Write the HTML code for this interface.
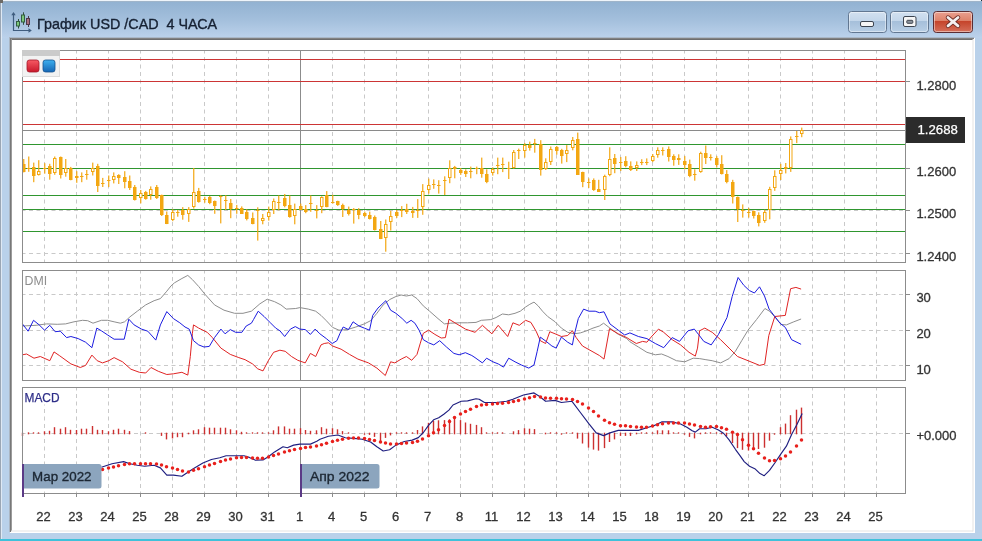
<!DOCTYPE html>
<html><head><meta charset="utf-8"><title>График USD /CAD 4 ЧАСА</title>
<style>html,body{margin:0;padding:0;background:#b9d1ea;overflow:hidden;width:982px;height:541px}svg{display:block}</style>
</head><body><svg width="982" height="541" viewBox="0 0 982 541" shape-rendering="auto"><rect x="0" y="0" width="982" height="541" fill="#b9d1ea"/><defs><linearGradient id="tg" x1="0" y1="0" x2="0" y2="1"><stop offset="0" stop-color="#91b1d1"/><stop offset="0.5" stop-color="#a3bfdc"/><stop offset="1" stop-color="#bcd2eb"/></linearGradient><linearGradient id="bmin" x1="0" y1="0" x2="0" y2="1"><stop offset="0" stop-color="#d3e1f0"/><stop offset="0.45" stop-color="#c3d6ea"/><stop offset="0.46" stop-color="#a5bfda"/><stop offset="1" stop-color="#b9cfe6"/></linearGradient><linearGradient id="bcls" x1="0" y1="0" x2="0" y2="1"><stop offset="0" stop-color="#eaa191"/><stop offset="0.45" stop-color="#dd8169"/><stop offset="0.46" stop-color="#c5432a"/><stop offset="1" stop-color="#d5715c"/></linearGradient><linearGradient id="sqr" x1="0" y1="0" x2="0" y2="1"><stop offset="0" stop-color="#f75a64"/><stop offset="1" stop-color="#c9182b"/></linearGradient><linearGradient id="sqb" x1="0" y1="0" x2="0" y2="1"><stop offset="0" stop-color="#3db0ef"/><stop offset="1" stop-color="#1566b5"/></linearGradient></defs><rect x="2" y="1" width="980" height="37" fill="url(#tg)"/><rect x="3" y="0" width="978" height="1" fill="#eef4fa"/><rect x="2" y="1" width="979" height="1" fill="#9fb4c9"/><rect x="0" y="3" width="1" height="538" fill="#9aa6b4"/><rect x="1" y="2" width="1" height="539" fill="#dfe9f4"/><rect x="0" y="0" width="3" height="3" fill="#6d6a66"/><rect x="981" y="0" width="1" height="1" fill="#1a2a30"/><rect x="0" y="539" width="982" height="2" fill="#3fc1da"/><rect x="10" y="38" width="965" height="495" fill="#ffffff"/><rect x="9" y="37" width="965" height="1" fill="#aab8c8"/><rect x="9" y="37" width="1" height="495" fill="#aab6c3"/><rect x="10" y="38" width="964" height="1" fill="#828282"/><rect x="10" y="38" width="1" height="494" fill="#787878"/><rect x="11" y="39" width="962" height="1" fill="#6e6e6e"/><rect x="11" y="39" width="1" height="492" fill="#9c9c9c"/><rect x="11" y="530.5" width="962" height="1" fill="#e3e3e3"/><rect x="972.5" y="39" width="1" height="492.5" fill="#e3e3e3"/><g fill="none" stroke-linecap="butt"><path d="M13.5 13.5 V30.5 H30" stroke="#3f5c7e" stroke-width="1.2"/><path d="M11.3 15.2 L13.5 12 L15.7 15.2 Z" fill="#3f5c7e" stroke="none"/><path d="M28.5 28.2 L31.8 30.5 L28.5 32.8 Z" fill="#3f5c7e" stroke="none"/><path d="M18.5 19 V28.5" stroke="#2f4f3c"/><rect x="16.5" y="21.5" width="3" height="4.5" fill="#7cc87c" stroke="#335d40" stroke-width="1"/><path d="M23.5 12.3 V24.8" stroke="#2f4f3c"/><rect x="21.5" y="15" width="3" height="7" fill="#7cc87c" stroke="#335d40" stroke-width="1"/><path d="M28.5 16 V27" stroke="#4a3a48"/><rect x="26.5" y="18.5" width="3" height="6" fill="#a8707e" stroke="#4f3a4c" stroke-width="1"/></g><text x="37" y="28.7" xml:space="preserve" font-family="Liberation Sans, Noto Sans CJK SC, sans-serif" font-size="14.3" fill="#162133" stroke="#162133" stroke-width="0.35" textLength="180" lengthAdjust="spacingAndGlyphs">График USD /CAD  4 ЧАСА</text><rect x="848.5" y="11.5" width="38" height="21" rx="3" fill="url(#bmin)" stroke="#627791"/><rect x="849.5" y="12.5" width="36" height="19" rx="2" fill="none" stroke="#ffffff" stroke-opacity="0.45"/><rect x="890.5" y="11.5" width="38" height="21" rx="3" fill="url(#bmin)" stroke="#627791"/><rect x="891.5" y="12.5" width="36" height="19" rx="2" fill="none" stroke="#ffffff" stroke-opacity="0.45"/><rect x="933.5" y="11.5" width="39" height="21" rx="3" fill="url(#bcls)" stroke="#5a2d33"/><rect x="934.5" y="12.5" width="37" height="19" rx="2" fill="none" stroke="#ffffff" stroke-opacity="0.45"/><rect x="860.5" y="21.5" width="13" height="5" rx="1.5" fill="#f6f6f6" stroke="#3c4450"/><rect x="903.5" y="16.5" width="12.5" height="10" rx="1.5" fill="#f6f6f6" stroke="#3c4450"/><rect x="906.8" y="20.3" width="6" height="3" rx="0.8" fill="#8a929c" stroke="#40464f" stroke-width="1"/><path d="M948 17.5 L958 25.8 M958 17.5 L948 25.8" stroke="#6a2a24" stroke-width="4.4" stroke-linecap="round"/><path d="M948 17.5 L958 25.8 M958 17.5 L948 25.8" stroke="#f4f0f0" stroke-width="2.8" stroke-linecap="round"/><line x1="44.5" y1="51" x2="44.5" y2="262" stroke="#c9c9c9" stroke-dasharray="4 3.5" stroke-dashoffset="1.5"/><line x1="76.5" y1="51" x2="76.5" y2="262" stroke="#c9c9c9" stroke-dasharray="4 3.5" stroke-dashoffset="1.5"/><line x1="108.5" y1="51" x2="108.5" y2="262" stroke="#c9c9c9" stroke-dasharray="4 3.5" stroke-dashoffset="1.5"/><line x1="140.5" y1="51" x2="140.5" y2="262" stroke="#c9c9c9" stroke-dasharray="4 3.5" stroke-dashoffset="1.5"/><line x1="172.5" y1="51" x2="172.5" y2="262" stroke="#c9c9c9" stroke-dasharray="4 3.5" stroke-dashoffset="1.5"/><line x1="204.5" y1="51" x2="204.5" y2="262" stroke="#c9c9c9" stroke-dasharray="4 3.5" stroke-dashoffset="1.5"/><line x1="236.5" y1="51" x2="236.5" y2="262" stroke="#c9c9c9" stroke-dasharray="4 3.5" stroke-dashoffset="1.5"/><line x1="268.5" y1="51" x2="268.5" y2="262" stroke="#c9c9c9" stroke-dasharray="4 3.5" stroke-dashoffset="1.5"/><line x1="332.5" y1="51" x2="332.5" y2="262" stroke="#c9c9c9" stroke-dasharray="4 3.5" stroke-dashoffset="1.5"/><line x1="364.5" y1="51" x2="364.5" y2="262" stroke="#c9c9c9" stroke-dasharray="4 3.5" stroke-dashoffset="1.5"/><line x1="396.5" y1="51" x2="396.5" y2="262" stroke="#c9c9c9" stroke-dasharray="4 3.5" stroke-dashoffset="1.5"/><line x1="428.5" y1="51" x2="428.5" y2="262" stroke="#c9c9c9" stroke-dasharray="4 3.5" stroke-dashoffset="1.5"/><line x1="460.5" y1="51" x2="460.5" y2="262" stroke="#c9c9c9" stroke-dasharray="4 3.5" stroke-dashoffset="1.5"/><line x1="492.5" y1="51" x2="492.5" y2="262" stroke="#c9c9c9" stroke-dasharray="4 3.5" stroke-dashoffset="1.5"/><line x1="524.5" y1="51" x2="524.5" y2="262" stroke="#c9c9c9" stroke-dasharray="4 3.5" stroke-dashoffset="1.5"/><line x1="556.5" y1="51" x2="556.5" y2="262" stroke="#c9c9c9" stroke-dasharray="4 3.5" stroke-dashoffset="1.5"/><line x1="588.5" y1="51" x2="588.5" y2="262" stroke="#c9c9c9" stroke-dasharray="4 3.5" stroke-dashoffset="1.5"/><line x1="620.5" y1="51" x2="620.5" y2="262" stroke="#c9c9c9" stroke-dasharray="4 3.5" stroke-dashoffset="1.5"/><line x1="652.5" y1="51" x2="652.5" y2="262" stroke="#c9c9c9" stroke-dasharray="4 3.5" stroke-dashoffset="1.5"/><line x1="684.5" y1="51" x2="684.5" y2="262" stroke="#c9c9c9" stroke-dasharray="4 3.5" stroke-dashoffset="1.5"/><line x1="716.5" y1="51" x2="716.5" y2="262" stroke="#c9c9c9" stroke-dasharray="4 3.5" stroke-dashoffset="1.5"/><line x1="748.5" y1="51" x2="748.5" y2="262" stroke="#c9c9c9" stroke-dasharray="4 3.5" stroke-dashoffset="1.5"/><line x1="780.5" y1="51" x2="780.5" y2="262" stroke="#c9c9c9" stroke-dasharray="4 3.5" stroke-dashoffset="1.5"/><line x1="812.5" y1="51" x2="812.5" y2="262" stroke="#c9c9c9" stroke-dasharray="4 3.5" stroke-dashoffset="1.5"/><line x1="844.5" y1="51" x2="844.5" y2="262" stroke="#c9c9c9" stroke-dasharray="4 3.5" stroke-dashoffset="1.5"/><line x1="876.5" y1="51" x2="876.5" y2="262" stroke="#c9c9c9" stroke-dasharray="4 3.5" stroke-dashoffset="1.5"/><line x1="44.5" y1="271" x2="44.5" y2="380" stroke="#c9c9c9" stroke-dasharray="4 3.5" stroke-dashoffset="1.5"/><line x1="76.5" y1="271" x2="76.5" y2="380" stroke="#c9c9c9" stroke-dasharray="4 3.5" stroke-dashoffset="1.5"/><line x1="108.5" y1="271" x2="108.5" y2="380" stroke="#c9c9c9" stroke-dasharray="4 3.5" stroke-dashoffset="1.5"/><line x1="140.5" y1="271" x2="140.5" y2="380" stroke="#c9c9c9" stroke-dasharray="4 3.5" stroke-dashoffset="1.5"/><line x1="172.5" y1="271" x2="172.5" y2="380" stroke="#c9c9c9" stroke-dasharray="4 3.5" stroke-dashoffset="1.5"/><line x1="204.5" y1="271" x2="204.5" y2="380" stroke="#c9c9c9" stroke-dasharray="4 3.5" stroke-dashoffset="1.5"/><line x1="236.5" y1="271" x2="236.5" y2="380" stroke="#c9c9c9" stroke-dasharray="4 3.5" stroke-dashoffset="1.5"/><line x1="268.5" y1="271" x2="268.5" y2="380" stroke="#c9c9c9" stroke-dasharray="4 3.5" stroke-dashoffset="1.5"/><line x1="332.5" y1="271" x2="332.5" y2="380" stroke="#c9c9c9" stroke-dasharray="4 3.5" stroke-dashoffset="1.5"/><line x1="364.5" y1="271" x2="364.5" y2="380" stroke="#c9c9c9" stroke-dasharray="4 3.5" stroke-dashoffset="1.5"/><line x1="396.5" y1="271" x2="396.5" y2="380" stroke="#c9c9c9" stroke-dasharray="4 3.5" stroke-dashoffset="1.5"/><line x1="428.5" y1="271" x2="428.5" y2="380" stroke="#c9c9c9" stroke-dasharray="4 3.5" stroke-dashoffset="1.5"/><line x1="460.5" y1="271" x2="460.5" y2="380" stroke="#c9c9c9" stroke-dasharray="4 3.5" stroke-dashoffset="1.5"/><line x1="492.5" y1="271" x2="492.5" y2="380" stroke="#c9c9c9" stroke-dasharray="4 3.5" stroke-dashoffset="1.5"/><line x1="524.5" y1="271" x2="524.5" y2="380" stroke="#c9c9c9" stroke-dasharray="4 3.5" stroke-dashoffset="1.5"/><line x1="556.5" y1="271" x2="556.5" y2="380" stroke="#c9c9c9" stroke-dasharray="4 3.5" stroke-dashoffset="1.5"/><line x1="588.5" y1="271" x2="588.5" y2="380" stroke="#c9c9c9" stroke-dasharray="4 3.5" stroke-dashoffset="1.5"/><line x1="620.5" y1="271" x2="620.5" y2="380" stroke="#c9c9c9" stroke-dasharray="4 3.5" stroke-dashoffset="1.5"/><line x1="652.5" y1="271" x2="652.5" y2="380" stroke="#c9c9c9" stroke-dasharray="4 3.5" stroke-dashoffset="1.5"/><line x1="684.5" y1="271" x2="684.5" y2="380" stroke="#c9c9c9" stroke-dasharray="4 3.5" stroke-dashoffset="1.5"/><line x1="716.5" y1="271" x2="716.5" y2="380" stroke="#c9c9c9" stroke-dasharray="4 3.5" stroke-dashoffset="1.5"/><line x1="748.5" y1="271" x2="748.5" y2="380" stroke="#c9c9c9" stroke-dasharray="4 3.5" stroke-dashoffset="1.5"/><line x1="780.5" y1="271" x2="780.5" y2="380" stroke="#c9c9c9" stroke-dasharray="4 3.5" stroke-dashoffset="1.5"/><line x1="812.5" y1="271" x2="812.5" y2="380" stroke="#c9c9c9" stroke-dasharray="4 3.5" stroke-dashoffset="1.5"/><line x1="844.5" y1="271" x2="844.5" y2="380" stroke="#c9c9c9" stroke-dasharray="4 3.5" stroke-dashoffset="1.5"/><line x1="876.5" y1="271" x2="876.5" y2="380" stroke="#c9c9c9" stroke-dasharray="4 3.5" stroke-dashoffset="1.5"/><line x1="44.5" y1="388" x2="44.5" y2="493" stroke="#c9c9c9" stroke-dasharray="4 3.5" stroke-dashoffset="1.5"/><line x1="76.5" y1="388" x2="76.5" y2="493" stroke="#c9c9c9" stroke-dasharray="4 3.5" stroke-dashoffset="1.5"/><line x1="108.5" y1="388" x2="108.5" y2="493" stroke="#c9c9c9" stroke-dasharray="4 3.5" stroke-dashoffset="1.5"/><line x1="140.5" y1="388" x2="140.5" y2="493" stroke="#c9c9c9" stroke-dasharray="4 3.5" stroke-dashoffset="1.5"/><line x1="172.5" y1="388" x2="172.5" y2="493" stroke="#c9c9c9" stroke-dasharray="4 3.5" stroke-dashoffset="1.5"/><line x1="204.5" y1="388" x2="204.5" y2="493" stroke="#c9c9c9" stroke-dasharray="4 3.5" stroke-dashoffset="1.5"/><line x1="236.5" y1="388" x2="236.5" y2="493" stroke="#c9c9c9" stroke-dasharray="4 3.5" stroke-dashoffset="1.5"/><line x1="268.5" y1="388" x2="268.5" y2="493" stroke="#c9c9c9" stroke-dasharray="4 3.5" stroke-dashoffset="1.5"/><line x1="332.5" y1="388" x2="332.5" y2="493" stroke="#c9c9c9" stroke-dasharray="4 3.5" stroke-dashoffset="1.5"/><line x1="364.5" y1="388" x2="364.5" y2="493" stroke="#c9c9c9" stroke-dasharray="4 3.5" stroke-dashoffset="1.5"/><line x1="396.5" y1="388" x2="396.5" y2="493" stroke="#c9c9c9" stroke-dasharray="4 3.5" stroke-dashoffset="1.5"/><line x1="428.5" y1="388" x2="428.5" y2="493" stroke="#c9c9c9" stroke-dasharray="4 3.5" stroke-dashoffset="1.5"/><line x1="460.5" y1="388" x2="460.5" y2="493" stroke="#c9c9c9" stroke-dasharray="4 3.5" stroke-dashoffset="1.5"/><line x1="492.5" y1="388" x2="492.5" y2="493" stroke="#c9c9c9" stroke-dasharray="4 3.5" stroke-dashoffset="1.5"/><line x1="524.5" y1="388" x2="524.5" y2="493" stroke="#c9c9c9" stroke-dasharray="4 3.5" stroke-dashoffset="1.5"/><line x1="556.5" y1="388" x2="556.5" y2="493" stroke="#c9c9c9" stroke-dasharray="4 3.5" stroke-dashoffset="1.5"/><line x1="588.5" y1="388" x2="588.5" y2="493" stroke="#c9c9c9" stroke-dasharray="4 3.5" stroke-dashoffset="1.5"/><line x1="620.5" y1="388" x2="620.5" y2="493" stroke="#c9c9c9" stroke-dasharray="4 3.5" stroke-dashoffset="1.5"/><line x1="652.5" y1="388" x2="652.5" y2="493" stroke="#c9c9c9" stroke-dasharray="4 3.5" stroke-dashoffset="1.5"/><line x1="684.5" y1="388" x2="684.5" y2="493" stroke="#c9c9c9" stroke-dasharray="4 3.5" stroke-dashoffset="1.5"/><line x1="716.5" y1="388" x2="716.5" y2="493" stroke="#c9c9c9" stroke-dasharray="4 3.5" stroke-dashoffset="1.5"/><line x1="748.5" y1="388" x2="748.5" y2="493" stroke="#c9c9c9" stroke-dasharray="4 3.5" stroke-dashoffset="1.5"/><line x1="780.5" y1="388" x2="780.5" y2="493" stroke="#c9c9c9" stroke-dasharray="4 3.5" stroke-dashoffset="1.5"/><line x1="812.5" y1="388" x2="812.5" y2="493" stroke="#c9c9c9" stroke-dasharray="4 3.5" stroke-dashoffset="1.5"/><line x1="844.5" y1="388" x2="844.5" y2="493" stroke="#c9c9c9" stroke-dasharray="4 3.5" stroke-dashoffset="1.5"/><line x1="876.5" y1="388" x2="876.5" y2="493" stroke="#c9c9c9" stroke-dasharray="4 3.5" stroke-dashoffset="1.5"/><line x1="23" y1="81.5" x2="905" y2="81.5" stroke="#c9c9c9" stroke-dasharray="4 3.5" stroke-dashoffset="1.5"/><line x1="23" y1="124.5" x2="905" y2="124.5" stroke="#c9c9c9" stroke-dasharray="4 3.5" stroke-dashoffset="1.5"/><line x1="23" y1="168.5" x2="905" y2="168.5" stroke="#c9c9c9" stroke-dasharray="4 3.5" stroke-dashoffset="1.5"/><line x1="23" y1="210.5" x2="905" y2="210.5" stroke="#c9c9c9" stroke-dasharray="4 3.5" stroke-dashoffset="1.5"/><line x1="23" y1="253.5" x2="905" y2="253.5" stroke="#c9c9c9" stroke-dasharray="4 3.5" stroke-dashoffset="1.5"/><line x1="23" y1="294.5" x2="905" y2="294.5" stroke="#c9c9c9" stroke-dasharray="4 3.5" stroke-dashoffset="1.5"/><line x1="23" y1="330.5" x2="905" y2="330.5" stroke="#c9c9c9" stroke-dasharray="4 3.5" stroke-dashoffset="1.5"/><line x1="23" y1="365.5" x2="905" y2="365.5" stroke="#c9c9c9" stroke-dasharray="4 3.5" stroke-dashoffset="1.5"/><line x1="23" y1="433.5" x2="905" y2="433.5" stroke="#c9c9c9" stroke-dasharray="4 3.5" stroke-dashoffset="1.5"/><line x1="300.5" y1="50" x2="300.5" y2="262" stroke="#8c8c8c"/><line x1="300.5" y1="270" x2="300.5" y2="380" stroke="#8c8c8c"/><line x1="300.5" y1="387" x2="300.5" y2="493" stroke="#8c8c8c"/><line x1="22" y1="59.5" x2="905" y2="59.5" stroke="#cc3535"/><line x1="22" y1="81.5" x2="905" y2="81.5" stroke="#cc3535"/><line x1="22" y1="124.5" x2="905" y2="124.5" stroke="#cc3535"/><line x1="22" y1="144.5" x2="905" y2="144.5" stroke="#2f962f"/><line x1="22" y1="168.5" x2="905" y2="168.5" stroke="#2f962f"/><line x1="22" y1="195.5" x2="905" y2="195.5" stroke="#2f962f"/><line x1="22" y1="209.5" x2="905" y2="209.5" stroke="#2f962f"/><line x1="22" y1="231.5" x2="905" y2="231.5" stroke="#2f962f"/><line x1="22" y1="130.5" x2="905" y2="130.5" stroke="#8a8a8a"/><g><rect x="23.15" y="159.0" width="1.2" height="13.4" fill="#f3a712"/><rect x="22.00" y="164" width="3.5" height="8" fill="#f3a712"/><rect x="28.15" y="156.5" width="1.2" height="15.3" fill="#f3a712"/><rect x="27.00" y="168" width="3.5" height="1" fill="#f3a712"/><rect x="33.15" y="162.6" width="1.2" height="19.6" fill="#f3a712"/><rect x="32.00" y="167" width="3.5" height="9" fill="#f3a712"/><rect x="38.15" y="160.2" width="1.2" height="15.3" fill="#f3a712"/><rect x="37.00" y="171" width="3.5" height="4" fill="#f3a712"/><rect x="38.00" y="172" width="1.5" height="2" fill="#fff"/><rect x="44.15" y="163.2" width="1.2" height="10.4" fill="#f3a712"/><rect x="43.00" y="168" width="3.5" height="1" fill="#f3a712"/><rect x="49.15" y="163.8" width="1.2" height="15.9" fill="#f3a712"/><rect x="48.00" y="166" width="3.5" height="8" fill="#f3a712"/><rect x="54.15" y="156.5" width="1.2" height="18.3" fill="#f3a712"/><rect x="53.00" y="158" width="3.5" height="15" fill="#f3a712"/><rect x="54.00" y="159" width="1.5" height="13" fill="#fff"/><rect x="60.15" y="156.5" width="1.2" height="22.0" fill="#f3a712"/><rect x="59.00" y="157" width="3.5" height="18" fill="#f3a712"/><rect x="65.15" y="159.0" width="1.2" height="17.7" fill="#f3a712"/><rect x="64.00" y="168" width="3.5" height="5" fill="#f3a712"/><rect x="65.00" y="169" width="1.5" height="3" fill="#fff"/><rect x="70.15" y="166.9" width="1.2" height="13.4" fill="#f3a712"/><rect x="69.00" y="168" width="3.5" height="12" fill="#f3a712"/><rect x="76.15" y="171.2" width="1.2" height="11.6" fill="#f3a712"/><rect x="75.00" y="176" width="3.5" height="2" fill="#f3a712"/><rect x="81.15" y="172.4" width="1.2" height="9.8" fill="#f3a712"/><rect x="80.00" y="176" width="3.5" height="1" fill="#f3a712"/><rect x="86.15" y="170.0" width="1.2" height="9.7" fill="#f3a712"/><rect x="85.00" y="174" width="3.5" height="1" fill="#f3a712"/><rect x="92.15" y="162.6" width="1.2" height="12.9" fill="#f3a712"/><rect x="91.00" y="168" width="3.5" height="4" fill="#f3a712"/><rect x="92.00" y="169" width="1.5" height="2" fill="#fff"/><rect x="97.15" y="163.8" width="1.2" height="28.2" fill="#f3a712"/><rect x="96.00" y="166" width="3.5" height="20" fill="#f3a712"/><rect x="102.15" y="177.9" width="1.2" height="9.1" fill="#f3a712"/><rect x="101.00" y="183" width="3.5" height="1" fill="#f3a712"/><rect x="108.15" y="175.5" width="1.2" height="11.5" fill="#f3a712"/><rect x="107.00" y="180" width="3.5" height="1" fill="#f3a712"/><rect x="113.15" y="172.4" width="1.2" height="11.0" fill="#f3a712"/><rect x="112.00" y="176" width="3.5" height="4" fill="#f3a712"/><rect x="113.00" y="177" width="1.5" height="2" fill="#fff"/><rect x="118.15" y="174.2" width="1.2" height="9.8" fill="#f3a712"/><rect x="117.00" y="175" width="3.5" height="3" fill="#f3a712"/><rect x="124.15" y="171.2" width="1.2" height="17.1" fill="#f3a712"/><rect x="123.00" y="177" width="3.5" height="5" fill="#f3a712"/><rect x="129.15" y="175.5" width="1.2" height="14.5" fill="#f3a712"/><rect x="128.00" y="181" width="3.5" height="7" fill="#f3a712"/><rect x="134.15" y="185.0" width="1.2" height="15.5" fill="#f3a712"/><rect x="133.00" y="187" width="3.5" height="13" fill="#f3a712"/><rect x="140.15" y="190.0" width="1.2" height="13.4" fill="#f3a712"/><rect x="139.00" y="193" width="3.5" height="5" fill="#f3a712"/><rect x="140.00" y="194" width="1.5" height="3" fill="#fff"/><rect x="145.15" y="190.9" width="1.2" height="8.8" fill="#f3a712"/><rect x="144.00" y="192" width="3.5" height="7" fill="#f3a712"/><rect x="150.15" y="186.4" width="1.2" height="13.3" fill="#f3a712"/><rect x="149.00" y="189" width="3.5" height="6" fill="#f3a712"/><rect x="150.00" y="190" width="1.5" height="4" fill="#fff"/><rect x="156.15" y="185.0" width="1.2" height="14.0" fill="#f3a712"/><rect x="155.00" y="187" width="3.5" height="11" fill="#f3a712"/><rect x="161.15" y="194.6" width="1.2" height="21.4" fill="#f3a712"/><rect x="160.00" y="195" width="3.5" height="20" fill="#f3a712"/><rect x="166.15" y="211.5" width="1.2" height="12.6" fill="#f3a712"/><rect x="165.00" y="215" width="3.5" height="9" fill="#f3a712"/><rect x="172.15" y="209.3" width="1.2" height="11.9" fill="#f3a712"/><rect x="171.00" y="212" width="3.5" height="8" fill="#f3a712"/><rect x="172.00" y="213" width="1.5" height="6" fill="#fff"/><rect x="177.15" y="210.0" width="1.2" height="6.7" fill="#f3a712"/><rect x="176.00" y="212" width="3.5" height="1" fill="#f3a712"/><rect x="182.15" y="207.1" width="1.2" height="12.6" fill="#f3a712"/><rect x="181.00" y="210" width="3.5" height="5" fill="#f3a712"/><rect x="188.15" y="207.1" width="1.2" height="14.8" fill="#f3a712"/><rect x="187.00" y="209" width="3.5" height="5" fill="#f3a712"/><rect x="188.00" y="210" width="1.5" height="3" fill="#fff"/><rect x="193.15" y="168.0" width="1.2" height="40.6" fill="#f3a712"/><rect x="192.00" y="192" width="3.5" height="15" fill="#f3a712"/><rect x="193.00" y="193" width="1.5" height="13" fill="#fff"/><rect x="198.15" y="187.9" width="1.2" height="14.8" fill="#f3a712"/><rect x="197.00" y="191" width="3.5" height="11" fill="#f3a712"/><rect x="204.15" y="196.8" width="1.2" height="5.9" fill="#f3a712"/><rect x="203.00" y="199" width="3.5" height="1" fill="#f3a712"/><rect x="209.15" y="196.0" width="1.2" height="8.2" fill="#f3a712"/><rect x="208.00" y="197" width="3.5" height="6" fill="#f3a712"/><rect x="214.15" y="200.5" width="1.2" height="13.3" fill="#f3a712"/><rect x="213.00" y="201" width="3.5" height="5" fill="#f3a712"/><rect x="220.15" y="195.3" width="1.2" height="28.1" fill="#f3a712"/><rect x="219.00" y="196" width="3.5" height="1" fill="#f3a712"/><rect x="225.15" y="195.3" width="1.2" height="14.7" fill="#f3a712"/><rect x="224.00" y="200" width="3.5" height="1" fill="#f3a712"/><rect x="230.15" y="199.0" width="1.2" height="19.2" fill="#f3a712"/><rect x="229.00" y="203" width="3.5" height="6" fill="#f3a712"/><rect x="236.15" y="204.9" width="1.2" height="8.9" fill="#f3a712"/><rect x="235.00" y="208" width="3.5" height="1" fill="#f3a712"/><rect x="241.15" y="206.4" width="1.2" height="7.4" fill="#f3a712"/><rect x="240.00" y="208" width="3.5" height="6" fill="#f3a712"/><rect x="246.15" y="209.3" width="1.2" height="11.1" fill="#f3a712"/><rect x="245.00" y="212" width="3.5" height="7" fill="#f3a712"/><rect x="252.15" y="212.5" width="1.2" height="11.8" fill="#f3a712"/><rect x="251.00" y="218" width="3.5" height="6" fill="#f3a712"/><rect x="257.15" y="207.3" width="1.2" height="33.3" fill="#f3a712"/><rect x="256.00" y="210" width="3.5" height="1" fill="#f3a712"/><rect x="262.15" y="214.0" width="1.2" height="10.3" fill="#f3a712"/><rect x="261.00" y="218" width="3.5" height="3" fill="#f3a712"/><rect x="262.00" y="219" width="1.5" height="1" fill="#fff"/><rect x="268.15" y="206.6" width="1.2" height="14.0" fill="#f3a712"/><rect x="267.00" y="212" width="3.5" height="5" fill="#f3a712"/><rect x="268.00" y="213" width="1.5" height="3" fill="#fff"/><rect x="273.15" y="198.5" width="1.2" height="15.5" fill="#f3a712"/><rect x="272.00" y="201" width="3.5" height="9" fill="#f3a712"/><rect x="273.00" y="202" width="1.5" height="7" fill="#fff"/><rect x="278.15" y="195.5" width="1.2" height="14.8" fill="#f3a712"/><rect x="277.00" y="202" width="3.5" height="1" fill="#f3a712"/><rect x="284.15" y="194.0" width="1.2" height="13.3" fill="#f3a712"/><rect x="283.00" y="198" width="3.5" height="8" fill="#f3a712"/><rect x="289.15" y="195.5" width="1.2" height="22.2" fill="#f3a712"/><rect x="288.00" y="205" width="3.5" height="12" fill="#f3a712"/><rect x="294.15" y="203.6" width="1.2" height="20.7" fill="#f3a712"/><rect x="293.00" y="209" width="3.5" height="7" fill="#f3a712"/><rect x="294.00" y="210" width="1.5" height="5" fill="#fff"/><rect x="300.15" y="203.6" width="1.2" height="6.0" fill="#f3a712"/><rect x="299.00" y="206" width="3.5" height="4" fill="#f3a712"/><rect x="305.15" y="205.1" width="1.2" height="8.1" fill="#f3a712"/><rect x="304.00" y="209" width="3.5" height="3" fill="#f3a712"/><rect x="310.15" y="195.5" width="1.2" height="16.3" fill="#f3a712"/><rect x="309.00" y="203" width="3.5" height="1" fill="#f3a712"/><rect x="316.15" y="205.1" width="1.2" height="13.3" fill="#f3a712"/><rect x="315.00" y="210" width="3.5" height="1" fill="#f3a712"/><rect x="321.15" y="196.3" width="1.2" height="16.9" fill="#f3a712"/><rect x="320.00" y="197" width="3.5" height="10" fill="#f3a712"/><rect x="321.00" y="198" width="1.5" height="8" fill="#fff"/><rect x="326.15" y="191.1" width="1.2" height="16.2" fill="#f3a712"/><rect x="325.00" y="195" width="3.5" height="12" fill="#f3a712"/><rect x="332.15" y="194.8" width="1.2" height="8.8" fill="#f3a712"/><rect x="331.00" y="202" width="3.5" height="1" fill="#f3a712"/><rect x="337.15" y="200.7" width="1.2" height="5.2" fill="#f3a712"/><rect x="336.00" y="201" width="3.5" height="4" fill="#f3a712"/><rect x="342.15" y="203.6" width="1.2" height="13.4" fill="#f3a712"/><rect x="341.00" y="205" width="3.5" height="4" fill="#f3a712"/><rect x="348.15" y="206.6" width="1.2" height="8.9" fill="#f3a712"/><rect x="347.00" y="210" width="3.5" height="4" fill="#f3a712"/><rect x="353.15" y="208.1" width="1.2" height="15.5" fill="#f3a712"/><rect x="352.00" y="209" width="3.5" height="1" fill="#f3a712"/><rect x="358.15" y="208.1" width="1.2" height="11.1" fill="#f3a712"/><rect x="357.00" y="210" width="3.5" height="5" fill="#f3a712"/><rect x="364.15" y="211.6" width="1.2" height="5.5" fill="#f3a712"/><rect x="363.00" y="213" width="3.5" height="3" fill="#f3a712"/><rect x="369.15" y="211.6" width="1.2" height="7.9" fill="#f3a712"/><rect x="368.00" y="215" width="3.5" height="4" fill="#f3a712"/><rect x="374.15" y="215.5" width="1.2" height="15.0" fill="#f3a712"/><rect x="373.00" y="217" width="3.5" height="13" fill="#f3a712"/><rect x="380.15" y="221.0" width="1.2" height="18.1" fill="#f3a712"/><rect x="379.00" y="229" width="3.5" height="10" fill="#f3a712"/><rect x="385.15" y="219.5" width="1.2" height="32.2" fill="#f3a712"/><rect x="384.00" y="224" width="3.5" height="14" fill="#f3a712"/><rect x="385.00" y="225" width="1.5" height="12" fill="#fff"/><rect x="390.15" y="210.8" width="1.2" height="19.7" fill="#f3a712"/><rect x="389.00" y="216" width="3.5" height="6" fill="#f3a712"/><rect x="390.00" y="217" width="1.5" height="4" fill="#fff"/><rect x="396.15" y="210.0" width="1.2" height="7.9" fill="#f3a712"/><rect x="395.00" y="212" width="3.5" height="4" fill="#f3a712"/><rect x="401.15" y="206.1" width="1.2" height="11.0" fill="#f3a712"/><rect x="400.00" y="210" width="3.5" height="1" fill="#f3a712"/><rect x="406.15" y="203.8" width="1.2" height="10.2" fill="#f3a712"/><rect x="405.00" y="209" width="3.5" height="3" fill="#f3a712"/><rect x="412.15" y="206.9" width="1.2" height="11.0" fill="#f3a712"/><rect x="411.00" y="211" width="3.5" height="2" fill="#f3a712"/><rect x="417.15" y="199.1" width="1.2" height="18.8" fill="#f3a712"/><rect x="416.00" y="210" width="3.5" height="1" fill="#f3a712"/><rect x="422.15" y="184.1" width="1.2" height="30.7" fill="#f3a712"/><rect x="421.00" y="191" width="3.5" height="16" fill="#f3a712"/><rect x="422.00" y="192" width="1.5" height="14" fill="#fff"/><rect x="428.15" y="178.6" width="1.2" height="15.0" fill="#f3a712"/><rect x="427.00" y="185" width="3.5" height="5" fill="#f3a712"/><rect x="428.00" y="186" width="1.5" height="3" fill="#fff"/><rect x="433.15" y="179.4" width="1.2" height="9.4" fill="#f3a712"/><rect x="432.00" y="184" width="3.5" height="1" fill="#f3a712"/><rect x="438.15" y="180.2" width="1.2" height="13.4" fill="#f3a712"/><rect x="437.00" y="185" width="3.5" height="1" fill="#f3a712"/><rect x="444.15" y="176.3" width="1.2" height="18.7" fill="#f3a712"/><rect x="443.00" y="180" width="3.5" height="1" fill="#f3a712"/><rect x="449.15" y="160.3" width="1.2" height="22.9" fill="#f3a712"/><rect x="448.00" y="168" width="3.5" height="10" fill="#f3a712"/><rect x="449.00" y="169" width="1.5" height="8" fill="#fff"/><rect x="454.15" y="165.9" width="1.2" height="12.4" fill="#f3a712"/><rect x="453.00" y="167" width="3.5" height="2" fill="#f3a712"/><rect x="460.15" y="168.0" width="1.2" height="6.9" fill="#f3a712"/><rect x="459.00" y="170" width="3.5" height="3" fill="#f3a712"/><rect x="465.15" y="169.3" width="1.2" height="7.7" fill="#f3a712"/><rect x="464.00" y="171" width="3.5" height="3" fill="#f3a712"/><rect x="470.15" y="166.6" width="1.2" height="11.7" fill="#f3a712"/><rect x="469.00" y="171" width="3.5" height="1" fill="#f3a712"/><rect x="476.15" y="166.6" width="1.2" height="7.6" fill="#f3a712"/><rect x="475.00" y="168" width="3.5" height="1" fill="#f3a712"/><rect x="481.15" y="157.6" width="1.2" height="20.1" fill="#f3a712"/><rect x="480.00" y="168" width="3.5" height="6" fill="#f3a712"/><rect x="486.15" y="169.3" width="1.2" height="13.9" fill="#f3a712"/><rect x="485.00" y="174" width="3.5" height="8" fill="#f3a712"/><rect x="492.15" y="167.3" width="1.2" height="8.3" fill="#f3a712"/><rect x="491.00" y="169" width="3.5" height="4" fill="#f3a712"/><rect x="492.00" y="170" width="1.5" height="2" fill="#fff"/><rect x="497.15" y="157.6" width="1.2" height="16.6" fill="#f3a712"/><rect x="496.00" y="165" width="3.5" height="1" fill="#f3a712"/><rect x="502.15" y="157.6" width="1.2" height="14.5" fill="#f3a712"/><rect x="501.00" y="164" width="3.5" height="1" fill="#f3a712"/><rect x="508.15" y="161.7" width="1.2" height="17.3" fill="#f3a712"/><rect x="507.00" y="168" width="3.5" height="1" fill="#f3a712"/><rect x="513.15" y="150.0" width="1.2" height="18.6" fill="#f3a712"/><rect x="512.00" y="152" width="3.5" height="16" fill="#f3a712"/><rect x="513.00" y="153" width="1.5" height="14" fill="#fff"/><rect x="518.15" y="148.6" width="1.2" height="10.4" fill="#f3a712"/><rect x="517.00" y="150" width="3.5" height="1" fill="#f3a712"/><rect x="524.15" y="143.0" width="1.2" height="14.6" fill="#f3a712"/><rect x="523.00" y="145" width="3.5" height="6" fill="#f3a712"/><rect x="524.00" y="146" width="1.5" height="4" fill="#fff"/><rect x="529.15" y="141.6" width="1.2" height="9.0" fill="#f3a712"/><rect x="528.00" y="145" width="3.5" height="3" fill="#f3a712"/><rect x="534.15" y="138.9" width="1.2" height="13.8" fill="#f3a712"/><rect x="533.00" y="143" width="3.5" height="1" fill="#f3a712"/><rect x="540.15" y="140.2" width="1.2" height="35.4" fill="#f3a712"/><rect x="539.00" y="144" width="3.5" height="26" fill="#f3a712"/><rect x="545.15" y="158.3" width="1.2" height="11.7" fill="#f3a712"/><rect x="544.00" y="162" width="3.5" height="7" fill="#f3a712"/><rect x="545.00" y="163" width="1.5" height="5" fill="#fff"/><rect x="550.15" y="146.5" width="1.2" height="18.5" fill="#f3a712"/><rect x="549.00" y="149" width="3.5" height="13" fill="#f3a712"/><rect x="550.00" y="150" width="1.5" height="11" fill="#fff"/><rect x="556.15" y="146.0" width="1.2" height="8.7" fill="#f3a712"/><rect x="555.00" y="147" width="3.5" height="4" fill="#f3a712"/><rect x="561.15" y="148.8" width="1.2" height="14.8" fill="#f3a712"/><rect x="560.00" y="150" width="3.5" height="6" fill="#f3a712"/><rect x="566.15" y="145.1" width="1.2" height="17.0" fill="#f3a712"/><rect x="565.00" y="150" width="3.5" height="4" fill="#f3a712"/><rect x="566.00" y="151" width="1.5" height="2" fill="#fff"/><rect x="572.15" y="137.0" width="1.2" height="13.3" fill="#f3a712"/><rect x="571.00" y="140" width="3.5" height="8" fill="#f3a712"/><rect x="572.00" y="141" width="1.5" height="6" fill="#fff"/><rect x="577.15" y="132.6" width="1.2" height="42.1" fill="#f3a712"/><rect x="576.00" y="139" width="3.5" height="36" fill="#f3a712"/><rect x="582.15" y="171.7" width="1.2" height="15.5" fill="#f3a712"/><rect x="581.00" y="172" width="3.5" height="10" fill="#f3a712"/><rect x="588.15" y="178.4" width="1.2" height="9.6" fill="#f3a712"/><rect x="587.00" y="182" width="3.5" height="1" fill="#f3a712"/><rect x="593.15" y="178.4" width="1.2" height="12.5" fill="#f3a712"/><rect x="592.00" y="180" width="3.5" height="10" fill="#f3a712"/><rect x="598.15" y="179.8" width="1.2" height="11.9" fill="#f3a712"/><rect x="597.00" y="189" width="3.5" height="3" fill="#f3a712"/><rect x="604.15" y="174.7" width="1.2" height="25.3" fill="#f3a712"/><rect x="603.00" y="176" width="3.5" height="14" fill="#f3a712"/><rect x="604.00" y="177" width="1.5" height="12" fill="#fff"/><rect x="609.15" y="147.3" width="1.2" height="28.9" fill="#f3a712"/><rect x="608.00" y="159" width="3.5" height="16" fill="#f3a712"/><rect x="609.00" y="160" width="1.5" height="14" fill="#fff"/><rect x="614.15" y="154.0" width="1.2" height="19.2" fill="#f3a712"/><rect x="613.00" y="158" width="3.5" height="6" fill="#f3a712"/><rect x="620.15" y="157.0" width="1.2" height="14.0" fill="#f3a712"/><rect x="619.00" y="162" width="3.5" height="1" fill="#f3a712"/><rect x="625.15" y="156.2" width="1.2" height="11.1" fill="#f3a712"/><rect x="624.00" y="161" width="3.5" height="5" fill="#f3a712"/><rect x="630.15" y="161.4" width="1.2" height="9.6" fill="#f3a712"/><rect x="629.00" y="166" width="3.5" height="4" fill="#f3a712"/><rect x="636.15" y="161.4" width="1.2" height="9.6" fill="#f3a712"/><rect x="635.00" y="165" width="3.5" height="3" fill="#f3a712"/><rect x="636.00" y="166" width="1.5" height="1" fill="#fff"/><rect x="641.15" y="159.2" width="1.2" height="5.9" fill="#f3a712"/><rect x="640.00" y="162" width="3.5" height="1" fill="#f3a712"/><rect x="646.15" y="158.4" width="1.2" height="6.7" fill="#f3a712"/><rect x="645.00" y="162" width="3.5" height="1" fill="#f3a712"/><rect x="652.15" y="154.0" width="1.2" height="8.1" fill="#f3a712"/><rect x="651.00" y="156" width="3.5" height="5" fill="#f3a712"/><rect x="652.00" y="157" width="1.5" height="3" fill="#fff"/><rect x="657.15" y="147.3" width="1.2" height="10.4" fill="#f3a712"/><rect x="656.00" y="150" width="3.5" height="5" fill="#f3a712"/><rect x="657.00" y="151" width="1.5" height="3" fill="#fff"/><rect x="662.15" y="147.3" width="1.2" height="8.2" fill="#f3a712"/><rect x="661.00" y="150" width="3.5" height="1" fill="#f3a712"/><rect x="668.15" y="146.5" width="1.2" height="15.0" fill="#f3a712"/><rect x="667.00" y="149" width="3.5" height="8" fill="#f3a712"/><rect x="673.15" y="154.3" width="1.2" height="11.4" fill="#f3a712"/><rect x="672.00" y="156" width="3.5" height="4" fill="#f3a712"/><rect x="678.15" y="154.3" width="1.2" height="10.6" fill="#f3a712"/><rect x="677.00" y="158" width="3.5" height="2" fill="#f3a712"/><rect x="684.15" y="156.1" width="1.2" height="13.2" fill="#f3a712"/><rect x="683.00" y="161" width="3.5" height="4" fill="#f3a712"/><rect x="689.15" y="159.6" width="1.2" height="17.6" fill="#f3a712"/><rect x="688.00" y="164" width="3.5" height="12" fill="#f3a712"/><rect x="694.15" y="169.3" width="1.2" height="11.4" fill="#f3a712"/><rect x="693.00" y="174" width="3.5" height="1" fill="#f3a712"/><rect x="700.15" y="151.7" width="1.2" height="21.1" fill="#f3a712"/><rect x="699.00" y="153" width="3.5" height="19" fill="#f3a712"/><rect x="700.00" y="154" width="1.5" height="17" fill="#fff"/><rect x="705.15" y="145.5" width="1.2" height="18.5" fill="#f3a712"/><rect x="704.00" y="153" width="3.5" height="5" fill="#f3a712"/><rect x="710.15" y="154.3" width="1.2" height="6.2" fill="#f3a712"/><rect x="709.00" y="157" width="3.5" height="1" fill="#f3a712"/><rect x="716.15" y="156.1" width="1.2" height="11.4" fill="#f3a712"/><rect x="715.00" y="158" width="3.5" height="7" fill="#f3a712"/><rect x="721.15" y="155.2" width="1.2" height="19.3" fill="#f3a712"/><rect x="720.00" y="164" width="3.5" height="10" fill="#f3a712"/><rect x="726.15" y="170.1" width="1.2" height="13.2" fill="#f3a712"/><rect x="725.00" y="174" width="3.5" height="8" fill="#f3a712"/><rect x="732.15" y="179.8" width="1.2" height="23.7" fill="#f3a712"/><rect x="731.00" y="182" width="3.5" height="15" fill="#f3a712"/><rect x="737.15" y="196.5" width="1.2" height="25.5" fill="#f3a712"/><rect x="736.00" y="197" width="3.5" height="12" fill="#f3a712"/><rect x="742.15" y="204.4" width="1.2" height="13.2" fill="#f3a712"/><rect x="741.00" y="210" width="3.5" height="1" fill="#f3a712"/><rect x="748.15" y="207.9" width="1.2" height="9.7" fill="#f3a712"/><rect x="747.00" y="212" width="3.5" height="1" fill="#f3a712"/><rect x="753.15" y="210.5" width="1.2" height="8.0" fill="#f3a712"/><rect x="752.00" y="211" width="3.5" height="5" fill="#f3a712"/><rect x="758.15" y="212.3" width="1.2" height="14.1" fill="#f3a712"/><rect x="757.00" y="215" width="3.5" height="8" fill="#f3a712"/><rect x="764.15" y="209.7" width="1.2" height="13.1" fill="#f3a712"/><rect x="763.00" y="212" width="3.5" height="9" fill="#f3a712"/><rect x="764.00" y="213" width="1.5" height="7" fill="#fff"/><rect x="769.15" y="186.8" width="1.2" height="32.5" fill="#f3a712"/><rect x="768.00" y="189" width="3.5" height="21" fill="#f3a712"/><rect x="769.00" y="190" width="1.5" height="19" fill="#fff"/><rect x="774.15" y="170.3" width="1.2" height="20.5" fill="#f3a712"/><rect x="773.00" y="176" width="3.5" height="12" fill="#f3a712"/><rect x="774.00" y="177" width="1.5" height="10" fill="#fff"/><rect x="780.15" y="163.8" width="1.2" height="16.2" fill="#f3a712"/><rect x="779.00" y="170" width="3.5" height="4" fill="#f3a712"/><rect x="780.00" y="171" width="1.5" height="2" fill="#fff"/><rect x="785.15" y="163.0" width="1.2" height="10.4" fill="#f3a712"/><rect x="784.00" y="167" width="3.5" height="2" fill="#f3a712"/><rect x="790.15" y="136.4" width="1.2" height="35.5" fill="#f3a712"/><rect x="789.00" y="139" width="3.5" height="29" fill="#f3a712"/><rect x="790.00" y="140" width="1.5" height="27" fill="#fff"/><rect x="796.15" y="131.0" width="1.2" height="12.1" fill="#f3a712"/><rect x="795.00" y="136" width="3.5" height="1" fill="#f3a712"/><rect x="801.15" y="127.6" width="1.2" height="9.6" fill="#f3a712"/><rect x="800.00" y="130" width="3.5" height="4" fill="#f3a712"/><rect x="801.00" y="131" width="1.5" height="2" fill="#fff"/></g><polyline points="22.4,326.0 36.1,325.3 46.6,323.9 57.2,324.3 65.6,323.9 74.0,321.8 82.5,320.3 87.7,320.7 93.0,323.2 101.4,320.3 107.7,320.3 114.1,321.8 120.4,323.2 124.6,321.8 129.9,316.9 137.3,311.2 145.7,304.9 154.1,300.7 160.4,298.6 166.8,291.2 171.0,285.9 174.5,282.8 181.9,278.5 187.8,275.4 192.4,279.6 198.7,286.5 205.0,294.3 214.5,304.9 224.0,310.2 234.6,313.3 243.0,313.3 251.4,311.2 259.9,303.8 267.2,299.2 274.6,301.7 280.9,304.9 286.2,309.1 295.7,308.5 299.9,307.6 308.3,309.1 315.7,311.2 321.0,315.4 326.3,320.7 332.6,327.4 339.0,330.2 347.4,329.6 355.8,327.0 364.3,323.9 370.6,320.7 376.9,313.3 383.2,304.9 389.6,299.6 395.9,296.5 401.2,295.0 406.4,296.0 411.7,295.0 417.0,298.6 423.3,305.9 429.6,311.2 438.0,318.6 444.4,323.9 450.7,323.2 459.1,322.8 467.6,322.8 476.0,322.4 481.3,320.3 490.8,319.6 496.1,317.5 502.4,314.0 508.7,314.8 515.0,313.3 520.3,311.2 525.6,307.0 529.8,304.3 534.0,302.1 538.2,305.9 542.5,311.2 547.7,316.5 555.1,321.8 561.4,328.1 567.7,332.3 574.1,333.8 580.4,332.9 586.7,330.8 593.0,328.1 599.4,326.0 603.6,323.2 609.9,328.1 618.3,334.4 626.8,338.6 630.0,341.8 638.4,347.0 646.9,352.3 655.3,354.8 661.6,354.0 667.9,356.5 676.4,360.7 684.8,361.8 693.2,358.2 699.6,358.6 705.9,359.7 712.2,360.7 720.6,362.9 729.1,358.6 735.4,351.3 741.7,340.7 748.0,330.2 756.5,319.6 764.9,308.5 769.5,311.2 774.8,316.9 781.1,324.5 786.4,324.9 793.8,321.8 801.1,319.0" fill="none" stroke="#8e8e8e" stroke-width="1" stroke-linejoin="round"/><polyline points="22.4,354.8 26.6,354.0 34.0,358.2 40.3,356.5 49.8,360.7 54.0,351.9 59.3,355.5 70.9,363.9 80.3,367.5 85.6,365.4 91.9,355.1 97.2,360.7 102.5,362.9 108.8,360.7 114.1,357.6 122.5,361.8 130.9,369.2 139.4,372.3 145.7,373.0 151.0,367.5 158.3,371.3 166.8,374.5 173.4,373.8 181.9,372.3 187.8,375.1 190.3,356.5 192.4,333.3 193.5,324.9 198.7,328.1 207.2,332.3 212.4,337.6 220.9,348.1 230.3,354.4 238.8,357.6 245.1,359.7 252.5,363.9 257.7,368.8 263.0,370.9 268.3,360.7 273.6,352.3 279.9,350.2 285.2,351.3 291.5,356.5 297.8,360.3 305.2,362.9 310.4,353.4 315.7,356.5 321.0,344.9 324.2,343.5 328.4,342.8 332.6,346.0 341.1,349.2 349.5,354.4 357.9,359.1 368.5,362.9 376.9,368.1 385.3,375.5 390.6,361.8 394.8,362.9 401.2,359.1 406.4,356.5 411.7,360.3 417.0,354.4 420.1,343.9 423.3,333.3 428.6,330.2 434.9,334.4 441.2,338.0 445.4,337.6 449.0,319.2 454.9,322.8 465.4,329.1 475.0,332.3 482.4,325.3 491.9,333.8 498.2,325.3 507.7,336.5 512.9,322.8 519.3,325.3 525.6,320.3 530.9,322.4 536.1,331.2 540.3,340.7 545.6,343.5 549.8,331.7 555.1,333.8 561.4,336.5 567.7,335.5 572.4,330.8 576.2,337.6 582.5,346.0 593.0,351.9 599.4,355.5 604.0,359.1 609.5,328.7 618.3,333.8 626.8,337.6 630.0,339.7 636.3,343.5 642.6,341.4 646.9,342.2 651.1,337.1 658.5,329.1 663.7,332.3 672.2,339.7 680.6,344.9 689.0,352.3 695.3,356.1 697.5,348.1 699.6,330.8 704.8,328.1 712.2,332.3 720.6,339.7 729.1,348.1 737.5,356.5 748.0,360.7 759.6,365.4 764.7,364.2 768.8,335.5 774.8,316.5 785.3,315.4 790.6,288.7 795.9,287.4 801.1,289.1" fill="none" stroke="#e02424" stroke-width="1" stroke-linejoin="round"/><polyline points="22.4,323.9 28.1,331.2 33.5,320.3 39.2,324.9 44.5,330.2 49.8,325.3 55.1,331.7 60.3,331.2 66.6,337.6 70.9,336.5 78.2,338.6 85.6,342.2 91.9,347.7 96.8,328.1 101.4,330.8 107.7,335.0 114.1,339.2 124.2,339.2 128.8,319.2 134.1,324.9 141.5,329.1 147.8,331.2 155.8,340.1 160.4,324.9 166.8,311.6 173.4,318.6 179.8,322.8 185.0,327.0 189.2,329.1 193.5,340.7 198.7,344.9 204.0,347.0 209.3,346.4 214.5,337.6 220.9,329.1 225.1,333.8 230.3,329.6 235.6,332.3 241.9,332.3 246.2,326.0 251.4,323.2 253.5,319.6 258.2,311.2 264.1,316.5 270.4,322.8 275.7,328.1 279.9,330.8 284.7,336.5 290.4,329.1 295.3,326.6 299.9,329.1 305.2,329.6 310.4,334.4 315.1,329.1 319.9,333.8 326.3,338.6 332.2,343.5 336.9,340.7 340.0,333.3 343.2,327.0 348.5,329.6 353.1,321.8 359.0,326.0 364.3,328.1 369.5,330.2 372.7,315.4 378.0,308.0 385.8,300.7 390.6,310.2 395.9,313.3 402.2,318.6 406.8,323.2 411.1,320.3 414.9,323.2 419.1,330.2 423.3,339.7 428.6,342.8 433.8,344.9 439.7,340.7 446.5,347.0 453.9,353.4 459.1,354.8 465.4,352.7 471.8,355.5 475.0,357.6 482.4,362.9 486.6,358.2 492.9,361.8 498.2,363.9 503.5,367.1 508.7,358.2 515.0,361.8 521.4,365.0 528.8,368.1 534.0,365.0 537.2,351.3 540.3,337.1 546.7,341.8 551.9,346.0 556.2,348.1 561.4,337.1 567.7,342.2 572.4,344.9 574.1,335.5 578.3,318.6 583.6,309.1 588.8,311.2 595.2,311.2 599.4,312.7 604.0,311.8 609.9,323.9 618.3,330.2 624.7,335.0 629.9,332.9 638.4,336.5 646.9,338.6 655.3,343.5 663.7,347.7 672.2,337.6 679.5,341.4 688.0,330.8 694.3,329.1 698.5,334.4 703.8,341.4 711.2,344.9 718.5,334.4 727.0,317.5 732.2,296.5 738.1,277.5 743.8,285.3 749.3,290.5 754.4,293.0 759.5,286.8 764.5,296.0 769.1,309.1 774.8,316.5 780.0,323.2 785.3,327.4 791.6,339.7 801.1,344.3" fill="none" stroke="#1c1ce0" stroke-width="1" stroke-linejoin="round"/><g><rect x="21.8" y="432.7" width="1.4" height="3.3" fill="#cc3030"/><rect x="27.8" y="432.3" width="1.4" height="2.0" fill="#cc3030"/><rect x="32.8" y="432.3" width="1.4" height="1.4" fill="#cc3030"/><rect x="37.8" y="432.3" width="1.4" height="1.4" fill="#cc3030"/><rect x="43.8" y="431.3" width="1.4" height="3.0" fill="#cc3030"/><rect x="48.8" y="430.8" width="1.4" height="3.5" fill="#cc3030"/><rect x="53.8" y="427.2" width="1.4" height="7.1" fill="#cc3030"/><rect x="59.8" y="428.7" width="1.4" height="5.6" fill="#cc3030"/><rect x="64.8" y="427.2" width="1.4" height="7.1" fill="#cc3030"/><rect x="69.8" y="429.8" width="1.4" height="4.5" fill="#cc3030"/><rect x="75.8" y="430.0" width="1.4" height="4.3" fill="#cc3030"/><rect x="80.8" y="428.7" width="1.4" height="5.6" fill="#cc3030"/><rect x="85.8" y="428.7" width="1.4" height="5.6" fill="#cc3030"/><rect x="91.8" y="426.0" width="1.4" height="8.3" fill="#cc3030"/><rect x="96.8" y="429.8" width="1.4" height="4.5" fill="#cc3030"/><rect x="101.8" y="430.0" width="1.4" height="4.3" fill="#cc3030"/><rect x="107.8" y="431.3" width="1.4" height="3.0" fill="#cc3030"/><rect x="112.8" y="429.8" width="1.4" height="4.5" fill="#cc3030"/><rect x="117.8" y="428.7" width="1.4" height="5.6" fill="#cc3030"/><rect x="123.8" y="429.8" width="1.4" height="4.5" fill="#cc3030"/><rect x="128.8" y="431.1" width="1.4" height="3.2" fill="#cc3030"/><rect x="144.8" y="432.3" width="1.4" height="1.4" fill="#cc3030"/><rect x="160.8" y="432.7" width="1.4" height="3.2" fill="#cc3030"/><rect x="165.8" y="432.7" width="1.4" height="6.7" fill="#cc3030"/><rect x="171.8" y="432.7" width="1.4" height="5.7" fill="#cc3030"/><rect x="176.8" y="432.7" width="1.4" height="4.5" fill="#cc3030"/><rect x="181.8" y="432.7" width="1.4" height="4.5" fill="#cc3030"/><rect x="187.8" y="432.7" width="1.4" height="1.6" fill="#cc3030"/><rect x="192.8" y="430.3" width="1.4" height="4.0" fill="#cc3030"/><rect x="197.8" y="429.3" width="1.4" height="5.0" fill="#cc3030"/><rect x="203.8" y="427.2" width="1.4" height="7.1" fill="#cc3030"/><rect x="208.8" y="427.7" width="1.4" height="6.6" fill="#cc3030"/><rect x="213.8" y="427.7" width="1.4" height="6.6" fill="#cc3030"/><rect x="219.8" y="427.7" width="1.4" height="6.6" fill="#cc3030"/><rect x="224.8" y="427.7" width="1.4" height="6.6" fill="#cc3030"/><rect x="229.8" y="429.3" width="1.4" height="5.0" fill="#cc3030"/><rect x="235.8" y="430.3" width="1.4" height="4.0" fill="#cc3030"/><rect x="240.8" y="431.8" width="1.4" height="2.5" fill="#cc3030"/><rect x="245.8" y="432.3" width="1.4" height="1.4" fill="#cc3030"/><rect x="251.8" y="432.3" width="1.4" height="1.4" fill="#cc3030"/><rect x="256.8" y="432.3" width="1.4" height="1.4" fill="#cc3030"/><rect x="261.8" y="432.3" width="1.4" height="1.4" fill="#cc3030"/><rect x="267.8" y="432.3" width="1.4" height="1.4" fill="#cc3030"/><rect x="272.8" y="430.3" width="1.4" height="4.0" fill="#cc3030"/><rect x="277.8" y="426.4" width="1.4" height="7.9" fill="#cc3030"/><rect x="283.8" y="426.4" width="1.4" height="7.9" fill="#cc3030"/><rect x="288.8" y="428.7" width="1.4" height="5.6" fill="#cc3030"/><rect x="293.8" y="428.7" width="1.4" height="5.6" fill="#cc3030"/><rect x="299.8" y="428.2" width="1.4" height="6.1" fill="#cc3030"/><rect x="304.8" y="430.0" width="1.4" height="4.3" fill="#cc3030"/><rect x="309.8" y="430.8" width="1.4" height="3.5" fill="#cc3030"/><rect x="315.8" y="430.3" width="1.4" height="4.0" fill="#cc3030"/><rect x="320.8" y="427.2" width="1.4" height="7.1" fill="#cc3030"/><rect x="325.8" y="428.7" width="1.4" height="5.6" fill="#cc3030"/><rect x="331.8" y="428.2" width="1.4" height="6.1" fill="#cc3030"/><rect x="336.8" y="429.3" width="1.4" height="5.0" fill="#cc3030"/><rect x="341.8" y="431.1" width="1.4" height="3.2" fill="#cc3030"/><rect x="347.8" y="432.3" width="1.4" height="1.4" fill="#cc3030"/><rect x="363.8" y="433.3" width="1.4" height="1.4" fill="#cc3030"/><rect x="368.8" y="432.7" width="1.4" height="2.2" fill="#cc3030"/><rect x="373.8" y="432.7" width="1.4" height="4.2" fill="#cc3030"/><rect x="379.8" y="432.7" width="1.4" height="8.3" fill="#cc3030"/><rect x="384.8" y="432.7" width="1.4" height="5.2" fill="#cc3030"/><rect x="389.8" y="432.7" width="1.4" height="2.7" fill="#cc3030"/><rect x="395.8" y="432.3" width="1.4" height="1.4" fill="#cc3030"/><rect x="400.8" y="432.3" width="1.4" height="1.4" fill="#cc3030"/><rect x="405.8" y="432.3" width="1.4" height="1.4" fill="#cc3030"/><rect x="411.8" y="432.3" width="1.4" height="1.4" fill="#cc3030"/><rect x="416.8" y="430.0" width="1.4" height="4.3" fill="#cc3030"/><rect x="421.8" y="426.4" width="1.4" height="7.9" fill="#cc3030"/><rect x="427.8" y="422.8" width="1.4" height="11.5" fill="#cc3030"/><rect x="432.8" y="420.8" width="1.4" height="13.5" fill="#cc3030"/><rect x="437.8" y="420.3" width="1.4" height="14.0" fill="#cc3030"/><rect x="443.8" y="420.1" width="1.4" height="14.2" fill="#cc3030"/><rect x="448.8" y="419.3" width="1.4" height="15.0" fill="#cc3030"/><rect x="453.8" y="417.7" width="1.4" height="16.6" fill="#cc3030"/><rect x="459.8" y="420.1" width="1.4" height="14.2" fill="#cc3030"/><rect x="464.8" y="422.5" width="1.4" height="11.8" fill="#cc3030"/><rect x="469.8" y="423.8" width="1.4" height="10.5" fill="#cc3030"/><rect x="475.8" y="424.9" width="1.4" height="9.4" fill="#cc3030"/><rect x="480.8" y="427.2" width="1.4" height="7.1" fill="#cc3030"/><rect x="485.8" y="432.3" width="1.4" height="1.4" fill="#cc3030"/><rect x="491.8" y="432.3" width="1.4" height="1.4" fill="#cc3030"/><rect x="496.8" y="432.3" width="1.4" height="1.4" fill="#cc3030"/><rect x="501.8" y="432.3" width="1.4" height="1.4" fill="#cc3030"/><rect x="512.8" y="431.3" width="1.4" height="3.0" fill="#cc3030"/><rect x="517.8" y="430.1" width="1.4" height="4.2" fill="#cc3030"/><rect x="523.8" y="428.2" width="1.4" height="6.1" fill="#cc3030"/><rect x="528.8" y="428.7" width="1.4" height="5.6" fill="#cc3030"/><rect x="533.8" y="429.1" width="1.4" height="5.2" fill="#cc3030"/><rect x="544.8" y="432.7" width="1.4" height="1.6" fill="#cc3030"/><rect x="549.8" y="432.3" width="1.4" height="1.4" fill="#cc3030"/><rect x="555.8" y="432.3" width="1.4" height="1.4" fill="#cc3030"/><rect x="560.8" y="433.3" width="1.4" height="1.4" fill="#cc3030"/><rect x="565.8" y="432.3" width="1.4" height="1.4" fill="#cc3030"/><rect x="571.8" y="432.3" width="1.4" height="1.4" fill="#cc3030"/><rect x="576.8" y="432.7" width="1.4" height="5.9" fill="#cc3030"/><rect x="581.8" y="432.7" width="1.4" height="10.8" fill="#cc3030"/><rect x="587.8" y="432.7" width="1.4" height="14.9" fill="#cc3030"/><rect x="592.8" y="432.7" width="1.4" height="16.9" fill="#cc3030"/><rect x="597.8" y="432.7" width="1.4" height="17.9" fill="#cc3030"/><rect x="603.8" y="432.7" width="1.4" height="15.4" fill="#cc3030"/><rect x="608.8" y="432.7" width="1.4" height="9.3" fill="#cc3030"/><rect x="613.8" y="432.7" width="1.4" height="6.7" fill="#cc3030"/><rect x="619.8" y="432.7" width="1.4" height="3.2" fill="#cc3030"/><rect x="624.8" y="432.7" width="1.4" height="3.2" fill="#cc3030"/><rect x="629.8" y="432.7" width="1.4" height="3.2" fill="#cc3030"/><rect x="635.8" y="432.7" width="1.4" height="1.6" fill="#cc3030"/><rect x="640.8" y="432.3" width="1.4" height="1.4" fill="#cc3030"/><rect x="645.8" y="432.3" width="1.4" height="1.4" fill="#cc3030"/><rect x="651.8" y="432.3" width="1.4" height="1.4" fill="#cc3030"/><rect x="656.8" y="430.3" width="1.4" height="4.0" fill="#cc3030"/><rect x="661.8" y="430.3" width="1.4" height="4.0" fill="#cc3030"/><rect x="667.8" y="430.3" width="1.4" height="4.0" fill="#cc3030"/><rect x="672.8" y="432.3" width="1.4" height="1.4" fill="#cc3030"/><rect x="677.8" y="432.3" width="1.4" height="1.4" fill="#cc3030"/><rect x="683.8" y="433.3" width="1.4" height="1.4" fill="#cc3030"/><rect x="688.8" y="432.7" width="1.4" height="4.2" fill="#cc3030"/><rect x="693.8" y="432.7" width="1.4" height="5.7" fill="#cc3030"/><rect x="699.8" y="432.7" width="1.4" height="1.6" fill="#cc3030"/><rect x="704.8" y="432.3" width="1.4" height="1.4" fill="#cc3030"/><rect x="709.8" y="432.3" width="1.4" height="1.4" fill="#cc3030"/><rect x="715.8" y="432.3" width="1.4" height="1.4" fill="#cc3030"/><rect x="720.8" y="432.7" width="1.4" height="1.6" fill="#cc3030"/><rect x="725.8" y="432.7" width="1.4" height="3.7" fill="#cc3030"/><rect x="731.8" y="432.7" width="1.4" height="10.3" fill="#cc3030"/><rect x="736.8" y="432.7" width="1.4" height="15.4" fill="#cc3030"/><rect x="741.8" y="432.7" width="1.4" height="17.1" fill="#cc3030"/><rect x="747.8" y="432.7" width="1.4" height="17.8" fill="#cc3030"/><rect x="752.8" y="432.7" width="1.4" height="15.9" fill="#cc3030"/><rect x="757.8" y="432.7" width="1.4" height="16.3" fill="#cc3030"/><rect x="763.8" y="432.7" width="1.4" height="15.0" fill="#cc3030"/><rect x="768.8" y="432.7" width="1.4" height="8.0" fill="#cc3030"/><rect x="773.8" y="433.3" width="1.4" height="1.4" fill="#cc3030"/><rect x="779.8" y="427.2" width="1.4" height="7.1" fill="#cc3030"/><rect x="784.8" y="423.6" width="1.4" height="10.7" fill="#cc3030"/><rect x="789.8" y="415.2" width="1.4" height="19.1" fill="#cc3030"/><rect x="795.8" y="409.7" width="1.4" height="24.6" fill="#cc3030"/><rect x="800.8" y="407.6" width="1.4" height="26.7" fill="#cc3030"/></g><polyline points="101.4,467.3 112.0,463.7 123.6,461.6 129.9,463.7 137.3,465.2 144.6,466.2 154.1,465.2 160.4,467.9 166.8,475.1 173.4,475.1 181.9,476.3 188.2,472.1 194.5,467.9 202.9,463.0 211.4,459.5 219.8,457.8 226.1,455.7 234.6,455.7 244.0,455.7 249.3,457.4 255.6,460.3 263.0,459.9 268.3,456.7 274.6,451.9 283.0,446.8 287.3,447.7 293.6,445.1 299.9,444.1 310.4,444.1 316.8,441.3 320.0,439.2 328.4,436.3 337.9,435.0 345.3,437.8 353.7,438.4 362.2,439.2 370.6,442.0 376.9,446.8 383.2,451.0 389.6,449.8 395.9,445.1 404.3,441.5 412.2,440.1 418.3,437.6 423.4,432.5 428.5,425.4 433.6,419.8 438.7,417.7 443.8,414.2 448.9,410.1 453.0,405.0 461.2,401.3 467.6,400.9 476.0,398.8 479.2,399.2 484.5,402.5 496.1,402.5 506.6,401.3 512.9,399.2 523.5,395.0 534.0,392.9 539.3,396.2 545.6,401.3 555.1,400.4 561.4,402.5 572.0,401.3 580.4,412.5 588.8,423.6 596.2,432.9 603.6,435.6 609.9,432.9 618.3,430.4 626.8,430.4 638.4,430.4 646.9,427.8 655.3,425.1 661.6,421.9 672.2,421.9 680.6,424.0 686.9,427.2 692.2,430.8 695.3,432.1 699.6,428.7 705.9,428.7 712.2,427.2 718.5,430.0 723.8,433.5 729.1,439.9 735.4,449.3 740.0,455.7 744.2,461.6 749.5,466.2 754.8,468.7 760.0,473.6 764.2,475.7 769.5,470.4 774.8,463.0 781.1,453.6 786.4,446.2 791.6,434.6 796.9,424.5 802.2,413.5" fill="none" stroke="#1f1f80" stroke-width="1.15" stroke-linejoin="round"/><g fill="#e8201c"><circle cx="92.5" cy="470.7" r="1.75"/><circle cx="97.5" cy="470.0" r="1.75"/><circle cx="102.5" cy="469.4" r="1.75"/><circle cx="108.5" cy="468.1" r="1.75"/><circle cx="113.5" cy="466.9" r="1.75"/><circle cx="118.5" cy="465.7" r="1.75"/><circle cx="124.5" cy="464.5" r="1.75"/><circle cx="129.5" cy="463.7" r="1.75"/><circle cx="134.5" cy="463.7" r="1.75"/><circle cx="140.5" cy="463.7" r="1.75"/><circle cx="145.5" cy="463.7" r="1.75"/><circle cx="150.5" cy="463.7" r="1.75"/><circle cx="156.5" cy="464.1" r="1.75"/><circle cx="161.5" cy="465.0" r="1.75"/><circle cx="166.5" cy="466.7" r="1.75"/><circle cx="172.5" cy="468.1" r="1.75"/><circle cx="177.5" cy="469.5" r="1.75"/><circle cx="182.5" cy="471.0" r="1.75"/><circle cx="188.5" cy="472.0" r="1.75"/><circle cx="193.5" cy="470.3" r="1.75"/><circle cx="198.5" cy="468.7" r="1.75"/><circle cx="204.5" cy="466.8" r="1.75"/><circle cx="209.5" cy="465.1" r="1.75"/><circle cx="214.5" cy="463.4" r="1.75"/><circle cx="220.5" cy="461.6" r="1.75"/><circle cx="225.5" cy="460.1" r="1.75"/><circle cx="230.5" cy="459.0" r="1.75"/><circle cx="236.5" cy="457.8" r="1.75"/><circle cx="241.5" cy="457.6" r="1.75"/><circle cx="246.5" cy="457.4" r="1.75"/><circle cx="252.5" cy="457.9" r="1.75"/><circle cx="257.5" cy="458.2" r="1.75"/><circle cx="262.5" cy="458.2" r="1.75"/><circle cx="268.5" cy="456.9" r="1.75"/><circle cx="273.5" cy="455.4" r="1.75"/><circle cx="278.5" cy="453.9" r="1.75"/><circle cx="284.5" cy="452.1" r="1.75"/><circle cx="289.5" cy="450.8" r="1.75"/><circle cx="294.5" cy="449.6" r="1.75"/><circle cx="300.5" cy="448.4" r="1.75"/><circle cx="305.5" cy="447.6" r="1.75"/><circle cx="310.5" cy="447.0" r="1.75"/><circle cx="316.5" cy="446.1" r="1.75"/><circle cx="321.5" cy="444.7" r="1.75"/><circle cx="326.5" cy="443.2" r="1.75"/><circle cx="332.5" cy="441.6" r="1.75"/><circle cx="337.5" cy="440.3" r="1.75"/><circle cx="342.5" cy="439.3" r="1.75"/><circle cx="348.5" cy="438.3" r="1.75"/><circle cx="353.5" cy="438.1" r="1.75"/><circle cx="358.5" cy="437.9" r="1.75"/><circle cx="364.5" cy="438.6" r="1.75"/><circle cx="369.5" cy="439.4" r="1.75"/><circle cx="374.5" cy="440.4" r="1.75"/><circle cx="380.5" cy="441.9" r="1.75"/><circle cx="385.5" cy="443.1" r="1.75"/><circle cx="390.5" cy="444.1" r="1.75"/><circle cx="396.5" cy="444.1" r="1.75"/><circle cx="401.5" cy="443.6" r="1.75"/><circle cx="406.5" cy="443.0" r="1.75"/><circle cx="412.5" cy="442.6" r="1.75"/><circle cx="417.5" cy="441.3" r="1.75"/><circle cx="422.5" cy="439.0" r="1.75"/><circle cx="428.5" cy="435.7" r="1.75"/><circle cx="433.5" cy="432.7" r="1.75"/><circle cx="438.5" cy="429.7" r="1.75"/><circle cx="444.5" cy="425.5" r="1.75"/><circle cx="449.5" cy="421.6" r="1.75"/><circle cx="454.5" cy="417.6" r="1.75"/><circle cx="460.5" cy="413.9" r="1.75"/><circle cx="465.5" cy="411.4" r="1.75"/><circle cx="470.5" cy="409.3" r="1.75"/><circle cx="476.5" cy="406.4" r="1.75"/><circle cx="481.5" cy="405.1" r="1.75"/><circle cx="486.5" cy="404.4" r="1.75"/><circle cx="492.5" cy="404.0" r="1.75"/><circle cx="497.5" cy="403.6" r="1.75"/><circle cx="502.5" cy="403.2" r="1.75"/><circle cx="508.5" cy="402.5" r="1.75"/><circle cx="513.5" cy="401.5" r="1.75"/><circle cx="518.5" cy="400.6" r="1.75"/><circle cx="524.5" cy="399.1" r="1.75"/><circle cx="529.5" cy="397.8" r="1.75"/><circle cx="534.5" cy="396.4" r="1.75"/><circle cx="540.5" cy="397.1" r="1.75"/><circle cx="545.5" cy="398.1" r="1.75"/><circle cx="550.5" cy="398.3" r="1.75"/><circle cx="556.5" cy="398.3" r="1.75"/><circle cx="561.5" cy="398.7" r="1.75"/><circle cx="566.5" cy="399.1" r="1.75"/><circle cx="572.5" cy="399.4" r="1.75"/><circle cx="577.5" cy="401.6" r="1.75"/><circle cx="582.5" cy="404.1" r="1.75"/><circle cx="588.5" cy="408.0" r="1.75"/><circle cx="593.5" cy="411.4" r="1.75"/><circle cx="598.5" cy="415.9" r="1.75"/><circle cx="604.5" cy="420.2" r="1.75"/><circle cx="609.5" cy="422.8" r="1.75"/><circle cx="614.5" cy="424.3" r="1.75"/><circle cx="620.5" cy="425.7" r="1.75"/><circle cx="625.5" cy="425.7" r="1.75"/><circle cx="630.5" cy="426.5" r="1.75"/><circle cx="636.5" cy="427.0" r="1.75"/><circle cx="641.5" cy="427.2" r="1.75"/><circle cx="646.5" cy="427.2" r="1.75"/><circle cx="652.5" cy="426.1" r="1.75"/><circle cx="657.5" cy="424.8" r="1.75"/><circle cx="662.5" cy="423.8" r="1.75"/><circle cx="668.5" cy="423.1" r="1.75"/><circle cx="673.5" cy="423.0" r="1.75"/><circle cx="678.5" cy="423.0" r="1.75"/><circle cx="684.5" cy="423.0" r="1.75"/><circle cx="689.5" cy="423.9" r="1.75"/><circle cx="694.5" cy="424.9" r="1.75"/><circle cx="700.5" cy="426.6" r="1.75"/><circle cx="705.5" cy="427.2" r="1.75"/><circle cx="710.5" cy="426.7" r="1.75"/><circle cx="716.5" cy="426.6" r="1.75"/><circle cx="721.5" cy="427.8" r="1.75"/><circle cx="726.5" cy="429.2" r="1.75"/><circle cx="732.5" cy="432.2" r="1.75"/><circle cx="737.5" cy="434.5" r="1.75"/><circle cx="742.5" cy="439.7" r="1.75"/><circle cx="748.5" cy="445.2" r="1.75"/><circle cx="753.5" cy="448.7" r="1.75"/><circle cx="758.5" cy="453.2" r="1.75"/><circle cx="764.5" cy="457.9" r="1.75"/><circle cx="769.5" cy="460.7" r="1.75"/><circle cx="774.5" cy="460.4" r="1.75"/><circle cx="780.5" cy="458.8" r="1.75"/><circle cx="785.5" cy="456.0" r="1.75"/><circle cx="790.5" cy="451.9" r="1.75"/><circle cx="796.5" cy="446.0" r="1.75"/><circle cx="801.5" cy="440.0" r="1.75"/></g><rect x="22.5" y="50.5" width="883" height="212" fill="none" stroke="#8c8c8c"/><rect x="22.5" y="270.5" width="883" height="110" fill="none" stroke="#8c8c8c"/><rect x="22.5" y="387.5" width="883" height="106" fill="none" stroke="#8c8c8c"/><rect x="22" y="50" width="38" height="27" fill="#f2f2f2"/><rect x="22.5" y="50.5" width="37" height="26" fill="none" stroke="#dcdcdc"/><rect x="22" y="50" width="38" height="6" fill="#cbcbcb"/><rect x="27" y="60" width="12" height="12" rx="2.5" fill="url(#sqr)" stroke="#a3172a" stroke-width="0.8"/><rect x="43" y="60" width="12" height="12" rx="2.5" fill="url(#sqb)" stroke="#14508e" stroke-width="0.8"/><rect x="22" y="464" width="2" height="33" fill="#5b3a86"/><path d="M24 464 H99 a2.5 2.5 0 0 1 2.5 2.5 V486 a2.5 2.5 0 0 1 -2.5 2.5 H24 Z" fill="#8ca5be"/><text x="32" y="481" font-family="Liberation Sans, sans-serif" font-size="13.6" fill="#1c2733" stroke="#1c2733" stroke-width="0.35" textLength="59.5" lengthAdjust="spacingAndGlyphs">Мар 2022</text><rect x="300" y="464" width="2" height="33" fill="#5b3a86"/><path d="M302 464 H377 a2.5 2.5 0 0 1 2.5 2.5 V486 a2.5 2.5 0 0 1 -2.5 2.5 H302 Z" fill="#8ca5be"/><text x="310" y="481" font-family="Liberation Sans, sans-serif" font-size="13.6" fill="#1c2733" stroke="#1c2733" stroke-width="0.35" textLength="59.5" lengthAdjust="spacingAndGlyphs">Апр 2022</text><line x1="44.5" y1="493" x2="44.5" y2="497" stroke="#8c8c8c"/><text x="43.5" y="521" text-anchor="middle" font-family="Liberation Sans, sans-serif" font-size="13" fill="#333" stroke="#333" stroke-width="0.3">22</text><line x1="76.5" y1="493" x2="76.5" y2="497" stroke="#8c8c8c"/><text x="75.5" y="521" text-anchor="middle" font-family="Liberation Sans, sans-serif" font-size="13" fill="#333" stroke="#333" stroke-width="0.3">23</text><line x1="108.5" y1="493" x2="108.5" y2="497" stroke="#8c8c8c"/><text x="107.5" y="521" text-anchor="middle" font-family="Liberation Sans, sans-serif" font-size="13" fill="#333" stroke="#333" stroke-width="0.3">24</text><line x1="140.5" y1="493" x2="140.5" y2="497" stroke="#8c8c8c"/><text x="139.5" y="521" text-anchor="middle" font-family="Liberation Sans, sans-serif" font-size="13" fill="#333" stroke="#333" stroke-width="0.3">25</text><line x1="172.5" y1="493" x2="172.5" y2="497" stroke="#8c8c8c"/><text x="171.5" y="521" text-anchor="middle" font-family="Liberation Sans, sans-serif" font-size="13" fill="#333" stroke="#333" stroke-width="0.3">28</text><line x1="204.5" y1="493" x2="204.5" y2="497" stroke="#8c8c8c"/><text x="203.5" y="521" text-anchor="middle" font-family="Liberation Sans, sans-serif" font-size="13" fill="#333" stroke="#333" stroke-width="0.3">29</text><line x1="236.5" y1="493" x2="236.5" y2="497" stroke="#8c8c8c"/><text x="235.5" y="521" text-anchor="middle" font-family="Liberation Sans, sans-serif" font-size="13" fill="#333" stroke="#333" stroke-width="0.3">30</text><line x1="268.5" y1="493" x2="268.5" y2="497" stroke="#8c8c8c"/><text x="267.5" y="521" text-anchor="middle" font-family="Liberation Sans, sans-serif" font-size="13" fill="#333" stroke="#333" stroke-width="0.3">31</text><text x="299.5" y="521" text-anchor="middle" font-family="Liberation Sans, sans-serif" font-size="13" fill="#333" stroke="#333" stroke-width="0.3">1</text><line x1="332.5" y1="493" x2="332.5" y2="497" stroke="#8c8c8c"/><text x="331.5" y="521" text-anchor="middle" font-family="Liberation Sans, sans-serif" font-size="13" fill="#333" stroke="#333" stroke-width="0.3">4</text><line x1="364.5" y1="493" x2="364.5" y2="497" stroke="#8c8c8c"/><text x="363.5" y="521" text-anchor="middle" font-family="Liberation Sans, sans-serif" font-size="13" fill="#333" stroke="#333" stroke-width="0.3">5</text><line x1="396.5" y1="493" x2="396.5" y2="497" stroke="#8c8c8c"/><text x="395.5" y="521" text-anchor="middle" font-family="Liberation Sans, sans-serif" font-size="13" fill="#333" stroke="#333" stroke-width="0.3">6</text><line x1="428.5" y1="493" x2="428.5" y2="497" stroke="#8c8c8c"/><text x="427.5" y="521" text-anchor="middle" font-family="Liberation Sans, sans-serif" font-size="13" fill="#333" stroke="#333" stroke-width="0.3">7</text><line x1="460.5" y1="493" x2="460.5" y2="497" stroke="#8c8c8c"/><text x="459.5" y="521" text-anchor="middle" font-family="Liberation Sans, sans-serif" font-size="13" fill="#333" stroke="#333" stroke-width="0.3">8</text><line x1="492.5" y1="493" x2="492.5" y2="497" stroke="#8c8c8c"/><text x="491.5" y="521" text-anchor="middle" font-family="Liberation Sans, sans-serif" font-size="13" fill="#333" stroke="#333" stroke-width="0.3">11</text><line x1="524.5" y1="493" x2="524.5" y2="497" stroke="#8c8c8c"/><text x="523.5" y="521" text-anchor="middle" font-family="Liberation Sans, sans-serif" font-size="13" fill="#333" stroke="#333" stroke-width="0.3">12</text><line x1="556.5" y1="493" x2="556.5" y2="497" stroke="#8c8c8c"/><text x="555.5" y="521" text-anchor="middle" font-family="Liberation Sans, sans-serif" font-size="13" fill="#333" stroke="#333" stroke-width="0.3">13</text><line x1="588.5" y1="493" x2="588.5" y2="497" stroke="#8c8c8c"/><text x="587.5" y="521" text-anchor="middle" font-family="Liberation Sans, sans-serif" font-size="13" fill="#333" stroke="#333" stroke-width="0.3">14</text><line x1="620.5" y1="493" x2="620.5" y2="497" stroke="#8c8c8c"/><text x="619.5" y="521" text-anchor="middle" font-family="Liberation Sans, sans-serif" font-size="13" fill="#333" stroke="#333" stroke-width="0.3">15</text><line x1="652.5" y1="493" x2="652.5" y2="497" stroke="#8c8c8c"/><text x="651.5" y="521" text-anchor="middle" font-family="Liberation Sans, sans-serif" font-size="13" fill="#333" stroke="#333" stroke-width="0.3">18</text><line x1="684.5" y1="493" x2="684.5" y2="497" stroke="#8c8c8c"/><text x="683.5" y="521" text-anchor="middle" font-family="Liberation Sans, sans-serif" font-size="13" fill="#333" stroke="#333" stroke-width="0.3">19</text><line x1="716.5" y1="493" x2="716.5" y2="497" stroke="#8c8c8c"/><text x="715.5" y="521" text-anchor="middle" font-family="Liberation Sans, sans-serif" font-size="13" fill="#333" stroke="#333" stroke-width="0.3">20</text><line x1="748.5" y1="493" x2="748.5" y2="497" stroke="#8c8c8c"/><text x="747.5" y="521" text-anchor="middle" font-family="Liberation Sans, sans-serif" font-size="13" fill="#333" stroke="#333" stroke-width="0.3">21</text><line x1="780.5" y1="493" x2="780.5" y2="497" stroke="#8c8c8c"/><text x="779.5" y="521" text-anchor="middle" font-family="Liberation Sans, sans-serif" font-size="13" fill="#333" stroke="#333" stroke-width="0.3">22</text><line x1="812.5" y1="493" x2="812.5" y2="497" stroke="#8c8c8c"/><text x="811.5" y="521" text-anchor="middle" font-family="Liberation Sans, sans-serif" font-size="13" fill="#333" stroke="#333" stroke-width="0.3">23</text><line x1="844.5" y1="493" x2="844.5" y2="497" stroke="#8c8c8c"/><text x="843.5" y="521" text-anchor="middle" font-family="Liberation Sans, sans-serif" font-size="13" fill="#333" stroke="#333" stroke-width="0.3">24</text><line x1="876.5" y1="493" x2="876.5" y2="497" stroke="#8c8c8c"/><text x="875.5" y="521" text-anchor="middle" font-family="Liberation Sans, sans-serif" font-size="13" fill="#333" stroke="#333" stroke-width="0.3">25</text><line x1="905" y1="81.5" x2="910" y2="81.5" stroke="#8c8c8c"/><text x="916.4" y="89.6" font-family="Liberation Sans, sans-serif" font-size="13" fill="#333" stroke="#333" stroke-width="0.3">1.2800</text><line x1="905" y1="168.5" x2="910" y2="168.5" stroke="#8c8c8c"/><text x="916.4" y="175.6" font-family="Liberation Sans, sans-serif" font-size="13" fill="#333" stroke="#333" stroke-width="0.3">1.2600</text><line x1="905" y1="210.5" x2="910" y2="210.5" stroke="#8c8c8c"/><text x="916.4" y="218.3" font-family="Liberation Sans, sans-serif" font-size="13" fill="#333" stroke="#333" stroke-width="0.3">1.2500</text><line x1="905" y1="253.5" x2="910" y2="253.5" stroke="#8c8c8c"/><text x="916.4" y="260.8" font-family="Liberation Sans, sans-serif" font-size="13" fill="#333" stroke="#333" stroke-width="0.3">1.2400</text><line x1="905" y1="294.5" x2="910" y2="294.5" stroke="#8c8c8c"/><text x="916.4" y="302" font-family="Liberation Sans, sans-serif" font-size="13" fill="#333" stroke="#333" stroke-width="0.3">30</text><line x1="905" y1="330.5" x2="910" y2="330.5" stroke="#8c8c8c"/><text x="916.4" y="338" font-family="Liberation Sans, sans-serif" font-size="13" fill="#333" stroke="#333" stroke-width="0.3">20</text><line x1="905" y1="365.5" x2="910" y2="365.5" stroke="#8c8c8c"/><text x="916.4" y="374" font-family="Liberation Sans, sans-serif" font-size="13" fill="#333" stroke="#333" stroke-width="0.3">10</text><line x1="905" y1="433.5" x2="910" y2="433.5" stroke="#8c8c8c"/><text x="916.4" y="440.4" font-family="Liberation Sans, sans-serif" font-size="13" fill="#333" stroke="#333" stroke-width="0.3">+0.000</text><rect x="906" y="117" width="59" height="26" fill="#2b2b2b"/><text x="917.5" y="134.3" font-family="Liberation Sans, sans-serif" font-size="13.2" fill="#fff" stroke="#fff" stroke-width="0.25">1.2688</text><rect x="23" y="271" width="26" height="16" fill="#fff"/><text x="24.5" y="285" font-family="Liberation Sans, sans-serif" font-size="12.4" fill="#8e8e8e" textLength="22.6" lengthAdjust="spacingAndGlyphs">DMI</text><rect x="23" y="388" width="38" height="16.5" fill="#fff"/><text x="24.5" y="401.6" font-family="Liberation Sans, sans-serif" font-size="12.3" fill="#2e2e88" stroke="#2e2e88" stroke-width="0.25" textLength="35" lengthAdjust="spacingAndGlyphs">MACD</text></svg></body></html>
